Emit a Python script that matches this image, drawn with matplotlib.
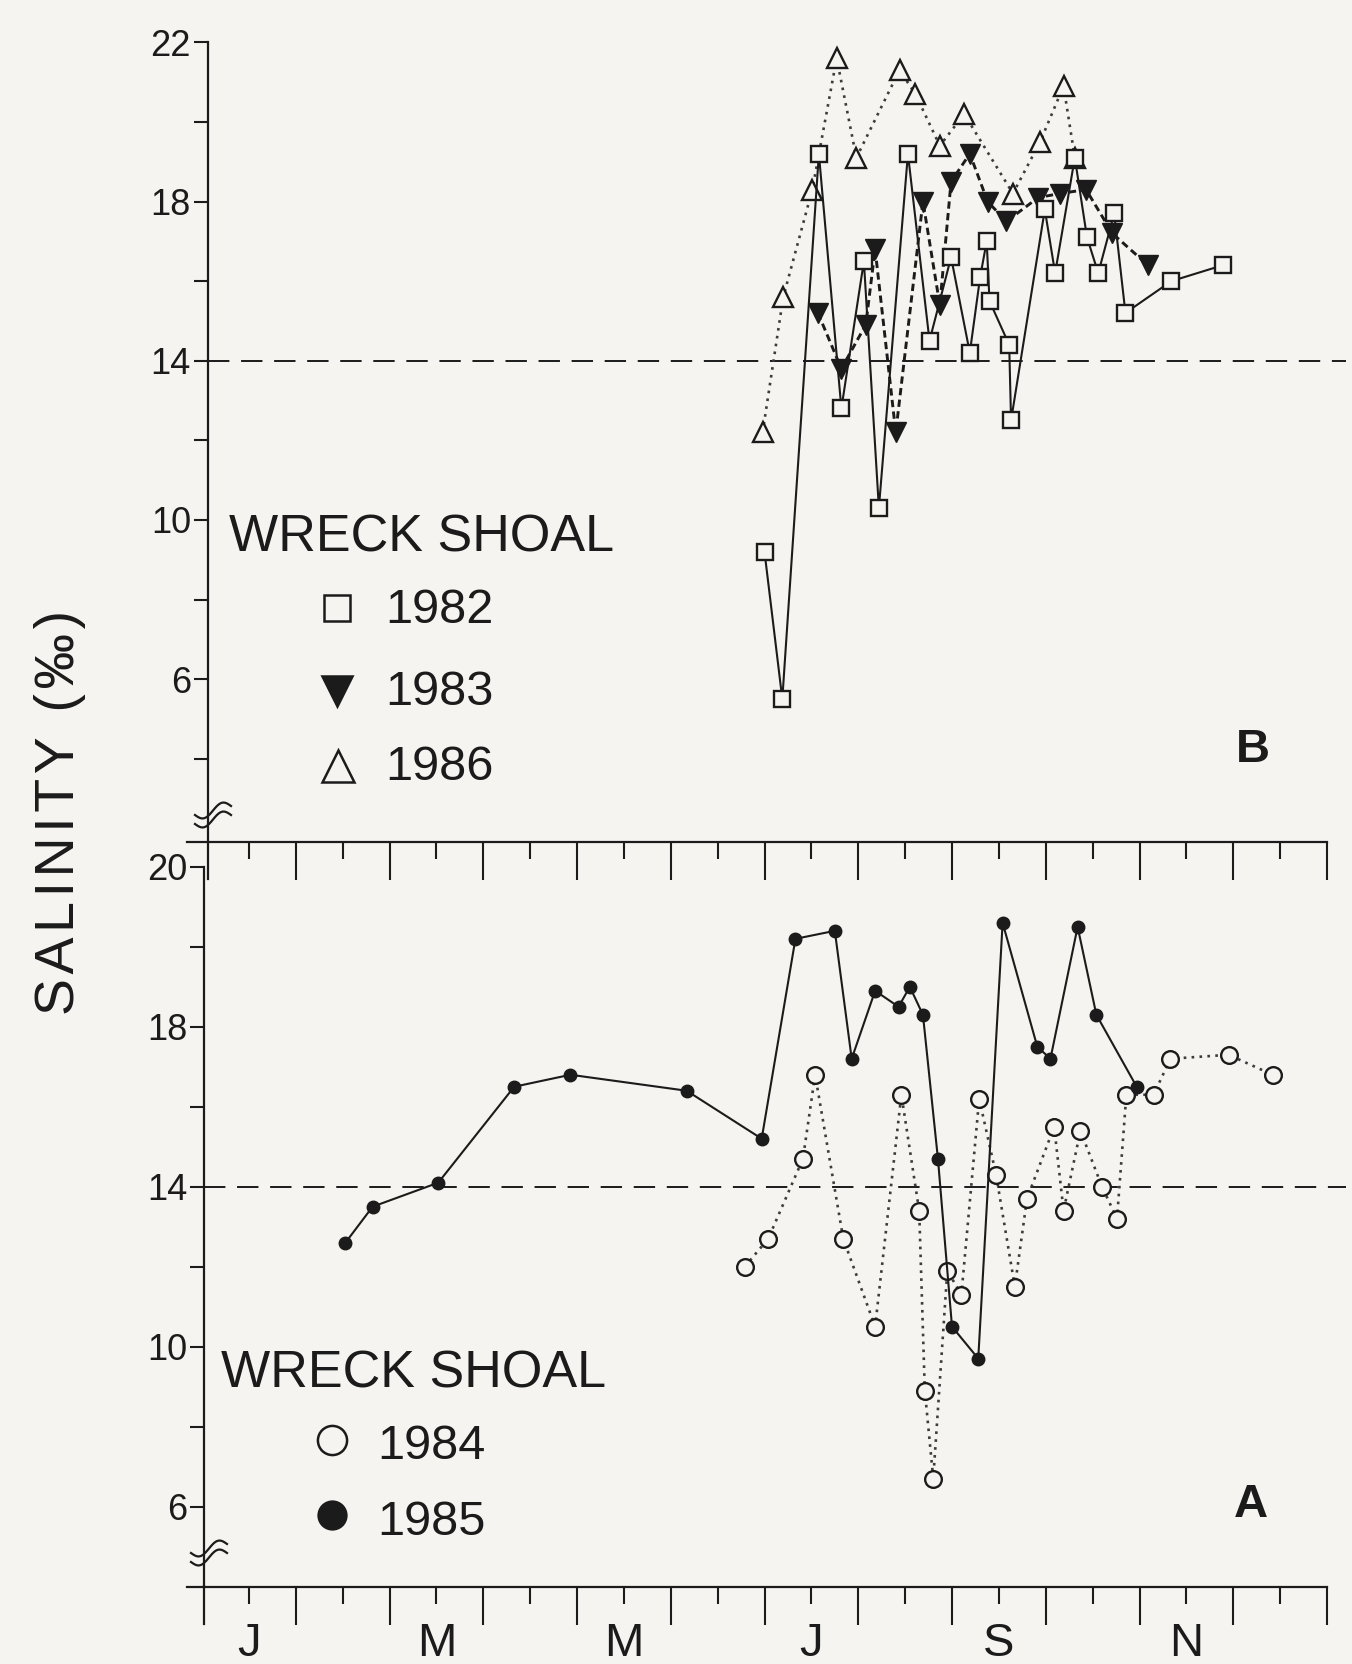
import numpy as np
import matplotlib
matplotlib.use('Agg')
import matplotlib.pyplot as plt
from matplotlib.lines import Line2D
import matplotlib.transforms as mtransforms

plt.rcParams['font.family'] = ['Liberation Sans', 'DejaVu Sans']

# ---------------- data (x = months since 1 January, y = salinity) ----------------
month_labels = ['J', 'M', 'M', 'J', 'S', 'N']
month_label_pos = [0.5, 2.5, 4.5, 6.5, 8.5, 10.5]
threshold = 14

# Panel B
t1982 = [6.00, 6.19, 6.58, 6.82, 7.06, 7.22, 7.53, 7.76, 7.99, 8.19, 8.30, 8.37,
         8.40, 8.61, 8.63, 8.99, 9.10, 9.31, 9.44, 9.56, 9.73, 9.85, 10.34, 10.89]
s1982 = [9.2, 5.5, 19.2, 12.8, 16.5, 10.3, 19.2, 14.5, 16.6, 14.2, 16.1, 17.0,
         15.5, 14.4, 12.5, 17.8, 16.2, 19.1, 17.1, 16.2, 17.7, 15.2, 16.0, 16.4]
t1983 = [6.57, 6.82, 7.08, 7.18, 7.40, 7.69, 7.87, 7.99, 8.19, 8.38, 8.58, 8.92,
         9.15, 9.43, 9.71, 10.09]
s1983 = [15.2, 13.8, 14.9, 16.8, 12.2, 18.0, 15.4, 18.5, 19.2, 18.0, 17.5, 18.1,
         18.2, 18.3, 17.2, 16.4]
t1986 = [5.98, 6.20, 6.51, 6.77, 6.98, 7.44, 7.61, 7.87, 8.13, 8.65, 8.94, 9.19, 9.31]
s1986 = [12.2, 15.6, 18.3, 21.6, 19.1, 21.3, 20.7, 19.4, 20.2, 18.2, 19.5, 20.9, 19.1]

# Panel A
t1984 = [5.79, 6.04, 6.41, 6.54, 6.84, 7.18, 7.46, 7.65, 7.71, 7.80, 7.95, 8.10, 8.29,
         8.47, 8.67, 8.80, 9.09, 9.19, 9.37, 9.60, 9.76, 9.86, 10.15, 10.33, 10.95, 11.42]
s1984 = [12.0, 12.7, 14.7, 16.8, 12.7, 10.5, 16.3, 13.4, 8.9, 6.7, 11.9, 11.3, 16.2,
         14.3, 11.5, 13.7, 15.5, 13.4, 15.4, 14.0, 13.2, 16.3, 16.3, 17.2, 17.3, 16.8]
t1985 = [1.53, 1.82, 2.52, 3.33, 3.93, 5.17, 5.97, 6.33, 6.75, 6.93, 7.18, 7.43,
         7.55, 7.69, 7.85, 8.00, 8.28, 8.54, 8.91, 9.05, 9.34, 9.54, 9.97]
s1985 = [12.6, 13.5, 14.1, 16.5, 16.8, 16.4, 15.2, 20.2, 20.4, 17.2, 18.9, 18.5,
         19.0, 18.3, 14.7, 10.5, 9.7, 20.6, 17.5, 17.2, 20.5, 18.3, 16.5]

yticks_major = [6, 10, 14, 18, 22]
ylabels_B = ['6', '10', '14', '18', '22']
ylabels_A = ['6', '10', '14', '18', '20']
yticks_minor_B = [4, 8, 12, 16, 20]
yticks_minor_A = [8, 12, 16, 20]

# ---------------- styling ----------------
BG = '#f6f4f0'
INK = '#1b1b1b'
GREY = '#3c3c3c'
NARROW = ['Liberation Sans Narrow', 'Liberation Sans', 'DejaVu Sans']

W, H = 1352, 1664
fig = plt.figure(figsize=(W / 100, H / 100), dpi=100, facecolor=BG)


def fx(px):
    return px / W


def fy(py):
    return 1 - py / H


XMIN, XMAX = -0.17, 12.25
X0_PX, MONTH_PX = 202.0, 93.75
left_px = X0_PX + XMIN * MONTH_PX
right_px = X0_PX + XMAX * MONTH_PX


def make_axes(bottom_px, unit_px, ylo, yhi):
    h = (yhi - ylo) * unit_px
    ax = fig.add_axes([fx(left_px), fy(bottom_px), (right_px - left_px) / W, h / H])
    ax.set_ylim(ylo, yhi)
    return ax


axB = make_axes(841.5, 39.8, 1.92, 22.3)
axA = make_axes(1586.5, 39.98, 4.0, 22.3)

for ax, ylo, ylabs, yminor, spx in ((axB, 1.92, ylabels_B, yticks_minor_B, 0.06),
                                    (axA, 4.0, ylabels_A, yticks_minor_A, 0.02)):
    ax.set_facecolor('none')
    ax.set_xlim(XMIN, XMAX)
    ax.spines['top'].set_visible(False)
    ax.spines['right'].set_visible(False)
    ax.spines['left'].set_position(('data', spx))
    ax.spines['left'].set_bounds(ylo, 22)
    ax.spines['bottom'].set_bounds(-0.16, 12)
    for s in ('left', 'bottom'):
        ax.spines[s].set_linewidth(1.6)
        ax.spines[s].set_color(INK)
    # the spine itself serves as the first (January) tick
    ax.set_xticks(np.arange(1, 13, 1))
    ax.set_xticks(np.arange(0.5, 12, 1), minor=True)
    ax.set_xticklabels([])
    ax.tick_params(axis='x', which='major', direction='out', length=27, width=1.5, color=INK)
    ax.tick_params(axis='x', which='minor', direction='out', length=12, width=1.5, color=INK)
    ax.set_yticks(yticks_major)
    ax.set_yticklabels(ylabs, fontfamily=NARROW, fontsize=26, color=INK)
    ax.set_yticks(yminor, minor=True)
    ax.tick_params(axis='y', which='both', direction='out', length=10, width=1.5,
                   color=INK, pad=2)
    # spine continues below the x axis
    ax.plot([spx, spx], [ylo - 0.93, ylo], color=INK, lw=1.6, clip_on=False, zorder=1)
    # threshold line
    ax.plot([spx, 12.2], [threshold, threshold], color=INK, lw=1.4,
            ls=(0, (11, 6)), zorder=1)

# ---------------- series ----------------
axB.plot(t1986, s1986, color=GREY, lw=1.9, ls=(0, (1, 2)), marker='^', ms=15,
         mfc=BG, mec=INK, mew=1.7, zorder=3)
axB.plot(t1983, s1983, color=INK, lw=2.1, ls=(0, (2.5, 1.5)), marker='v', ms=15,
         mfc=INK, mec=INK, mew=1.0, zorder=4)
axB.plot(t1982, s1982, color=INK, lw=1.5, ls='-', marker='s', ms=11,
         mfc=BG, mec=INK, mew=1.7, zorder=5)

axA.plot(t1984, s1984, color=GREY, lw=1.9, ls=(0, (1, 2)), marker='o', ms=12,
         mfc=BG, mec=INK, mew=1.7, zorder=3)
axA.plot(t1985, s1985, color=INK, lw=1.5, ls='-', marker='o', ms=9,
         mfc=INK, mec=INK, mew=1.0, zorder=4)

# month labels
trans = mtransforms.blended_transform_factory(axA.transData, fig.transFigure)
for p, lab in zip(month_label_pos, month_labels):
    axA.text(p, fy(1656), lab, transform=trans, ha='center', va='baseline',
             fontsize=34, fontfamily=NARROW, color=INK, clip_on=False)

# ---------------- legends ----------------
def legend_marker(xpx, ypx, marker, ms, filled):
    fig.add_artist(Line2D([fx(xpx)], [fy(ypx)], transform=fig.transFigure, marker=marker,
                          ms=ms, mfc=INK if filled else BG, mec=INK, mew=1.8, ls='none'))


def ftext(xpx, ypx, s, **kw):
    kw.setdefault('color', INK)
    fig.text(fx(xpx), fy(ypx), s, **kw)


ftext(229, 551.7, 'WRECK SHOAL', fontsize=37.5, va='baseline', ha='left')
legend_marker(337, 607.5, 's', 19, False)
ftext(385, 623, '1982', fontsize=35, va='baseline', ha='left')
legend_marker(337, 691, 'v', 22, True)
ftext(385, 705, '1983', fontsize=35, va='baseline', ha='left')
legend_marker(338, 766, '^', 23, False)
ftext(385, 780, '1986', fontsize=35, va='baseline', ha='left')

ftext(221, 1388, 'WRECK SHOAL', fontsize=37.5, va='baseline', ha='left')
legend_marker(332, 1440, 'o', 21, False)
ftext(377, 1459, '1984', fontsize=35, va='baseline', ha='left')
legend_marker(332, 1515, 'o', 20, True)
ftext(377, 1535, '1985', fontsize=35, va='baseline', ha='left')

ftext(1236, 762, 'B', fontsize=34, fontweight='bold', va='baseline', ha='left')
ftext(1234, 1517, 'A', fontsize=34, fontweight='bold', va='baseline', ha='left')

ylab = '\u200a'.join('SALINITY (‰)')
ftext(60, 812, ylab, fontsize=40, rotation=90, ha='center', va='center')

# ---------------- axis break marks ----------------
def break_mark(cx, cy):
    xs = np.linspace(-18, 18, 40)
    for off in (-4.5, 4.5):
        ys = cy + off - 5.5 * np.sin(np.pi * xs / 18) - 0.25 * xs
        fig.add_artist(Line2D(fx(cx + xs), fy(ys), transform=fig.transFigure,
                              color=INK, lw=1.6))


break_mark(213, 815)
break_mark(209, 1553)

fig.savefig('out.png', dpi=100, facecolor=BG)
